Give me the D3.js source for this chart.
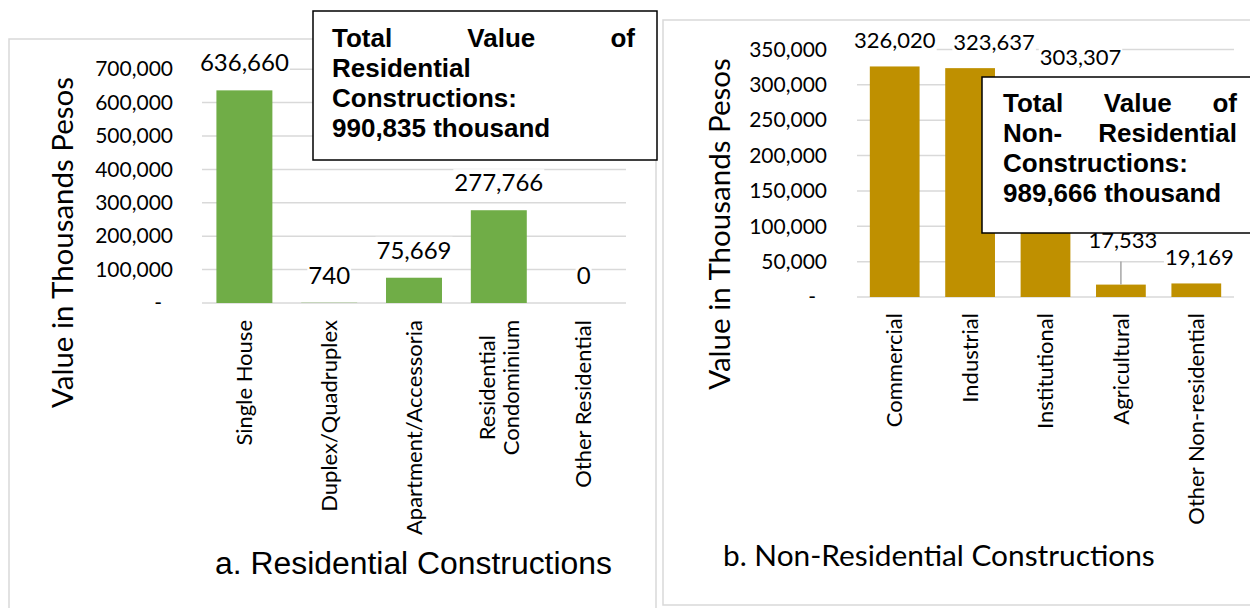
<!DOCTYPE html>
<html>
<head>
<meta charset="utf-8">
<script src="https://cdn.jsdelivr.net/npm/d3@7"></script>
<style>
  body { margin: 0; background: #fff; }
  svg { display: block; }
</style>
</head>
<body>
<svg id="chart" width="1250" height="608"></svg>
<script>
// data (thousand pesos)
const resCategories = ["Single House", "Duplex/Quadruplex", "Apartment/Accessoria", "Residential Condominium", "Other Residential"];
const resValues = [636660, 740, 75669, 277766, 0];
const resTicks = [0, 100000, 200000, 300000, 400000, 500000, 600000, 700000];

const nonResCategories = ["Commercial", "Industrial", "Institutional", "Agricultural", "Other Non-residential"];
const nonResValues = [326020, 323637, 303307, 17533, 19169];
const nonResTicks = [0, 50000, 100000, 150000, 200000, 250000, 300000, 350000];

const resTotal = "990,835";
const nonResTotal = "989,666";

const svg = d3.select("#chart");
const calibri = "Lato, 'Open Sans', sans-serif";
const arial = "'Liberation Sans', Arial, sans-serif";
const fmt = d3.format(",");

// shrink/grow a text's font so that it spans the given width
function fitText(t, w) {
  const fs = parseFloat(t.style("font-size"));
  const len = t.node().getComputedTextLength();
  t.style("font-size", (fs * w / len) + "px");
}

function drawPanel(p) {
  const g = svg.append("g");

  g.append("rect")
    .attr("x", p.frame[0]).attr("y", p.frame[1])
    .attr("width", p.frame[2]).attr("height", p.frame[3])
    .attr("fill", "none").attr("stroke", "#d9d9d9").attr("stroke-width", 1.5);

  const x = d3.scaleBand().domain(p.cats).range(p.xr).paddingInner(0.34).paddingOuter(0.17);
  const y = d3.scaleLinear().domain([0, d3.max(p.ticks)]).range(p.yr);

  // gridlines
  g.append("g").selectAll("line").data(p.ticks).join("line")
    .attr("x1", p.xr[0]).attr("x2", p.xr[1])
    .attr("y1", d => y(d)).attr("y2", d => y(d))
    .attr("stroke", "#d9d9d9").attr("stroke-width", 1.5);

  // bars
  g.append("g").selectAll("rect").data(p.values).join("rect")
    .attr("x", (d, i) => x(p.cats[i]))
    .attr("width", x.bandwidth())
    .attr("y", d => y(d))
    .attr("height", d => y(0) - y(d))
    .attr("fill", p.color);

  // data labels
  const lab = g.append("g").selectAll("g").data(p.values).join("g")
    .attr("transform", (d, i) => {
      const s = p.shift[i] || [0, 0];
      return `translate(${x(p.cats[i]) + x.bandwidth() / 2 + s[0]},${y(d) - p.labelGap + s[1]})`;
    });
  lab.append("rect").attr("fill", "#fff");
  lab.append("text")
    .attr("text-anchor", "middle")
    .style("font-family", calibri).style("font-size", p.labelSize + "px")
    .attr("fill", "#000")
    .text(d => fmt(d));
  lab.each(function () {
    const b = d3.select(this).select("text").node().getBBox();
    d3.select(this).select("rect")
      .attr("x", b.x - 1).attr("y", b.y + 2).attr("width", b.width + 2).attr("height", b.height - 2);
  });

  // leader lines for moved labels
  p.leaders.forEach(i => {
    const cx = x(p.cats[i]) + x.bandwidth() / 2;
    const s = p.shift[i];
    g.append("line")
      .attr("x1", cx).attr("x2", cx)
      .attr("y1", y(p.values[i]) - p.labelGap + s[1] + 14)
      .attr("y2", y(p.values[i]))
      .attr("stroke", "#a6a6a6").attr("stroke-width", 1.5);
  });

  // y axis tick labels
  const ax = g.append("g")
    .attr("transform", `translate(${p.tickX},0)`)
    .call(d3.axisLeft(y).tickValues(p.ticks).tickSize(0).tickPadding(0)
      .tickFormat(d => d === 0 ? "-" : fmt(d)));
  ax.select(".domain").remove();
  ax.selectAll("text")
    .style("font-family", calibri).style("font-size", "21px").attr("fill", "#000")
    .attr("dx", d => d === 0 ? -11 : 0);

  // category labels, rotated
  const cl = g.append("g").selectAll("text").data(p.cats).join("text")
    .attr("transform", d => `translate(${x(d) + x.bandwidth() / 2},0) rotate(-90)`)
    .attr("text-anchor", "middle")
    .style("font-family", calibri).style("font-size", "22px").attr("fill", "#000");
  cl.each(function (d) {
    const lines = p.wrap[d] || [d];
    const t = d3.select(this);
    const sp = t.selectAll("tspan").data(lines).join("tspan")
      .attr("y", (l, j) => (j - (lines.length - 1) / 2) * 24)
      .attr("dy", "0.35em")
      .text(l => l);
    const maxLen = d3.max(sp.nodes(), n => n.getComputedTextLength());
    sp.attr("x", -(p.catTop + maxLen / 2));
  });

  // y axis title
  const yt = g.append("text")
    .attr("transform", `translate(${p.yTitle[0]},${p.yTitle[1]}) rotate(-90)`)
    .attr("text-anchor", "middle")
    .style("font-family", calibri).style("font-size", "30px").attr("fill", "#000")
    .text("Value in Thousands Pesos");
  fitText(yt, p.yTitle[2]);

  // chart title
  const ct = g.append("text")
    .attr("x", p.title.x).attr("y", p.title.y)
    .attr("text-anchor", p.title.anchor)
    .style("font-family", p.title.font).style("font-size", p.title.size + "px").attr("fill", "#000")
    .text(p.title.text);
  fitText(ct, p.title.w);

  // total box
  const bx = p.box;
  g.append("rect")
    .attr("x", bx.rect[0]).attr("y", bx.rect[1]).attr("width", bx.rect[2]).attr("height", bx.rect[3])
    .attr("fill", "#fff").attr("stroke", "#000").attr("stroke-width", 1.5);
  bx.lines.forEach((words, li) => {
    const by = bx.base + li * 30;
    const tg = g.append("g");
    const ts = tg.selectAll("text").data(words).join("text")
      .attr("y", by)
      .style("font-family", arial).style("font-weight", "bold").style("font-size", "26px")
      .attr("fill", "#000")
      .text(w => w);
    if (words.length > 1 && bx.justify[li]) {
      const lens = ts.nodes().map(n => n.getComputedTextLength());
      const gap = (bx.x1 - bx.x0 - d3.sum(lens)) / (words.length - 1);
      let cx = bx.x0;
      ts.attr("x", (w, j) => { const v = cx; cx += lens[j] + gap; return v; });
    } else {
      ts.attr("x", bx.x0);
    }
  });
}

drawPanel({
  cats: resCategories, values: resValues, ticks: resTicks, color: "#70ad47",
  frame: [9, 39, 647, 620], xr: [202, 626], yr: [303, 69.2],
  labelGap: 19, labelSize: 24, shift: {}, leaders: [],
  tickX: 173, catTop: 320,
  wrap: { "Residential Condominium": ["Residential", "Condominium"] },
  yTitle: [73, 242.5, 331],
  title: { text: "a. Residential Constructions", x: 413.5, y: 574, anchor: "middle", font: arial, size: 31, w: 397 },
  box: {
    rect: [313, 11, 344, 149], x0: 332, x1: 635, base: 47,
    lines: [["Total", "Value", "of"], ["Residential"], ["Constructions:"], [resTotal + " thousand"]],
    justify: [true, false, false, false]
  }
});

drawPanel({
  cats: nonResCategories, values: nonResValues, ticks: nonResTicks, color: "#bf9000",
  frame: [663, 20, 620, 585], xr: [857, 1234], yr: [297, 49.5],
  labelGap: 18, labelSize: 22,
  shift: { 1: [24, 0], 2: [35, 0], 3: [2, -19], 4: [3, 0] }, leaders: [3],
  tickX: 827, catTop: 313,
  wrap: {},
  yTitle: [730, 224, 332],
  title: { text: "b. Non-Residential Constructions", x: 723, y: 566, anchor: "start", font: calibri, size: 29, w: 432 },
  box: {
    rect: [982, 77, 300, 156], x0: 1003, x1: 1237, base: 112,
    lines: [["Total", "Value", "of"], ["Non-", "Residential"], ["Constructions:"], [nonResTotal + " thousand"]],
    justify: [true, true, false, false]
  }
});
</script>
</body>
</html>
